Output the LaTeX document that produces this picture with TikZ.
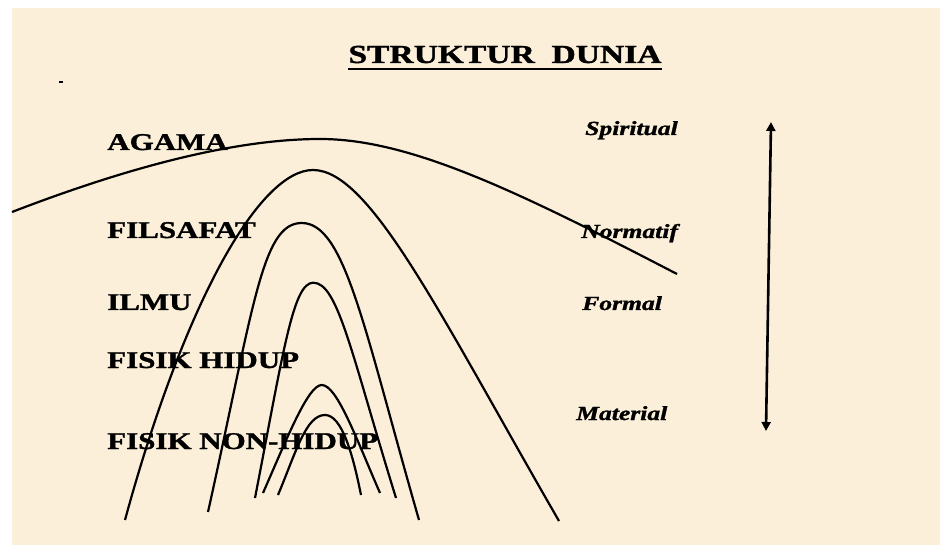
\documentclass[tikz,border=0pt]{standalone}
\usepackage{fontspec}
\setmainfont{Liberation Serif}[BoldFeatures={FakeBold=1.2}, BoldItalicFeatures={FakeBold=1.2}]
\usetikzlibrary{arrows.meta}

\begin{document}
\begin{tikzpicture}[x=1pt, y=-1pt,
    curve/.style={line width=2.2pt},
    level/.style={font=\bfseries\fontsize{24}{24}\selectfont, anchor=base west, inner sep=0pt, xscale=1.29},
    aspect/.style={font=\bfseries\itshape\fontsize{20}{20}\selectfont, anchor=base west, inner sep=0pt, xscale=1.28}]
    \def\slideW{940}
    \def\slideH{545}

    \definecolor{paperColour}{HTML}{FBEFD9}

    % Background
    \useasboundingbox (0,0) rectangle (\slideW,\slideH);
    \fill[white] (0,0) rectangle (\slideW,\slideH);
    \fill[paperColour] (12,8) rectangle (\slideW,\slideH);
    \draw[line width=1.2pt] (59,82) -- (63,82);

    % Title
    \node[font=\bfseries\fontsize{26}{26}\selectfont, anchor=base, inner sep=0pt, xscale=1.29] (title) at (505,63) {STRUKTUR\ \ DUNIA};
    \draw[line width=2pt] ([yshift=-6pt]title.base west) -- ([yshift=-6pt]title.base east);

    % Levels
    \node[level] (agama) at (107,150) {AGAMA};
    \node[level] (filsafat) at (107,238) {FILSAFAT};
    \node[level] (ilmu) at (107,310) {ILMU};
    \node[level] (hidup) at (107,368) {FISIK HIDUP};
    \node[level] (nonhidup) at (107,449) {FISIK NON-HIDUP};

    % Aspects
    \node[aspect] (spiritual) at (585,135) {Spiritual};
    \node[aspect] (normatif) at (581,238) {Normatif};
    \node[aspect] (formal) at (582,310) {Formal};
    \node[aspect] (material) at (576,420) {Material};

    % Scale arrow
    \coordinate (up) at (771,122);
    \coordinate (down) at (766,431);
    \draw[line width=2.6pt, {Triangle[length=9pt,width=9pt]}-{Triangle[length=9pt,width=9pt]}] (down) -- (up);

    % Top curve
    \coordinate (skyL) at (12,212);
    \coordinate (skyT) at (320,139);
    \coordinate (skyR) at (677,274);
    \draw[curve] (skyL) .. controls (152,158) and (250,139) .. (skyT) .. controls (410,139) and (517,191) .. (skyR);

    % Arches
    \coordinate (a1L) at (125,520);
    \coordinate (a1T) at (313,170);
    \coordinate (a1R) at (559,521);
    \draw[curve] (a1L) .. controls (185,300) and (260,170) .. (a1T) .. controls (370,170) and (439,313) .. (a1R);

    \coordinate (a2L) at (208,512);
    \coordinate (a2T) at (301.7,223);
    \coordinate (a2R) at (419,520);
    \draw[curve] (a2L) .. controls (254,305) and (262,223) .. (a2T) .. controls (345,223) and (363.8,327.8) .. (a2R);

    \coordinate (a3L) at (255,498);
    \coordinate (a3T) at (313.3,282.7);
    \coordinate (a3R) at (396,498);
    \draw[curve] (a3L) .. controls (283.5,351) and (293,282.7) .. (a3T) .. controls (338,282.7) and (351.6,354.7) .. (a3R);

    \coordinate (a4L) at (263,493);
    \coordinate (a4T) at (321.7,385);
    \coordinate (a4R) at (380,493);
    \draw[curve] (a4L) .. controls (287,438.4) and (308,385) .. (a4T) .. controls (337,385) and (356,438) .. (a4R);

    \coordinate (a5L) at (278,495);
    \coordinate (a5T) at (325,415);
    \coordinate (a5R) at (361,495);
    \draw[curve] (a5L) .. controls (296,452) and (306,415) .. (a5T) .. controls (342,415) and (353,455) .. (a5R);

\end{tikzpicture}
\end{document}
